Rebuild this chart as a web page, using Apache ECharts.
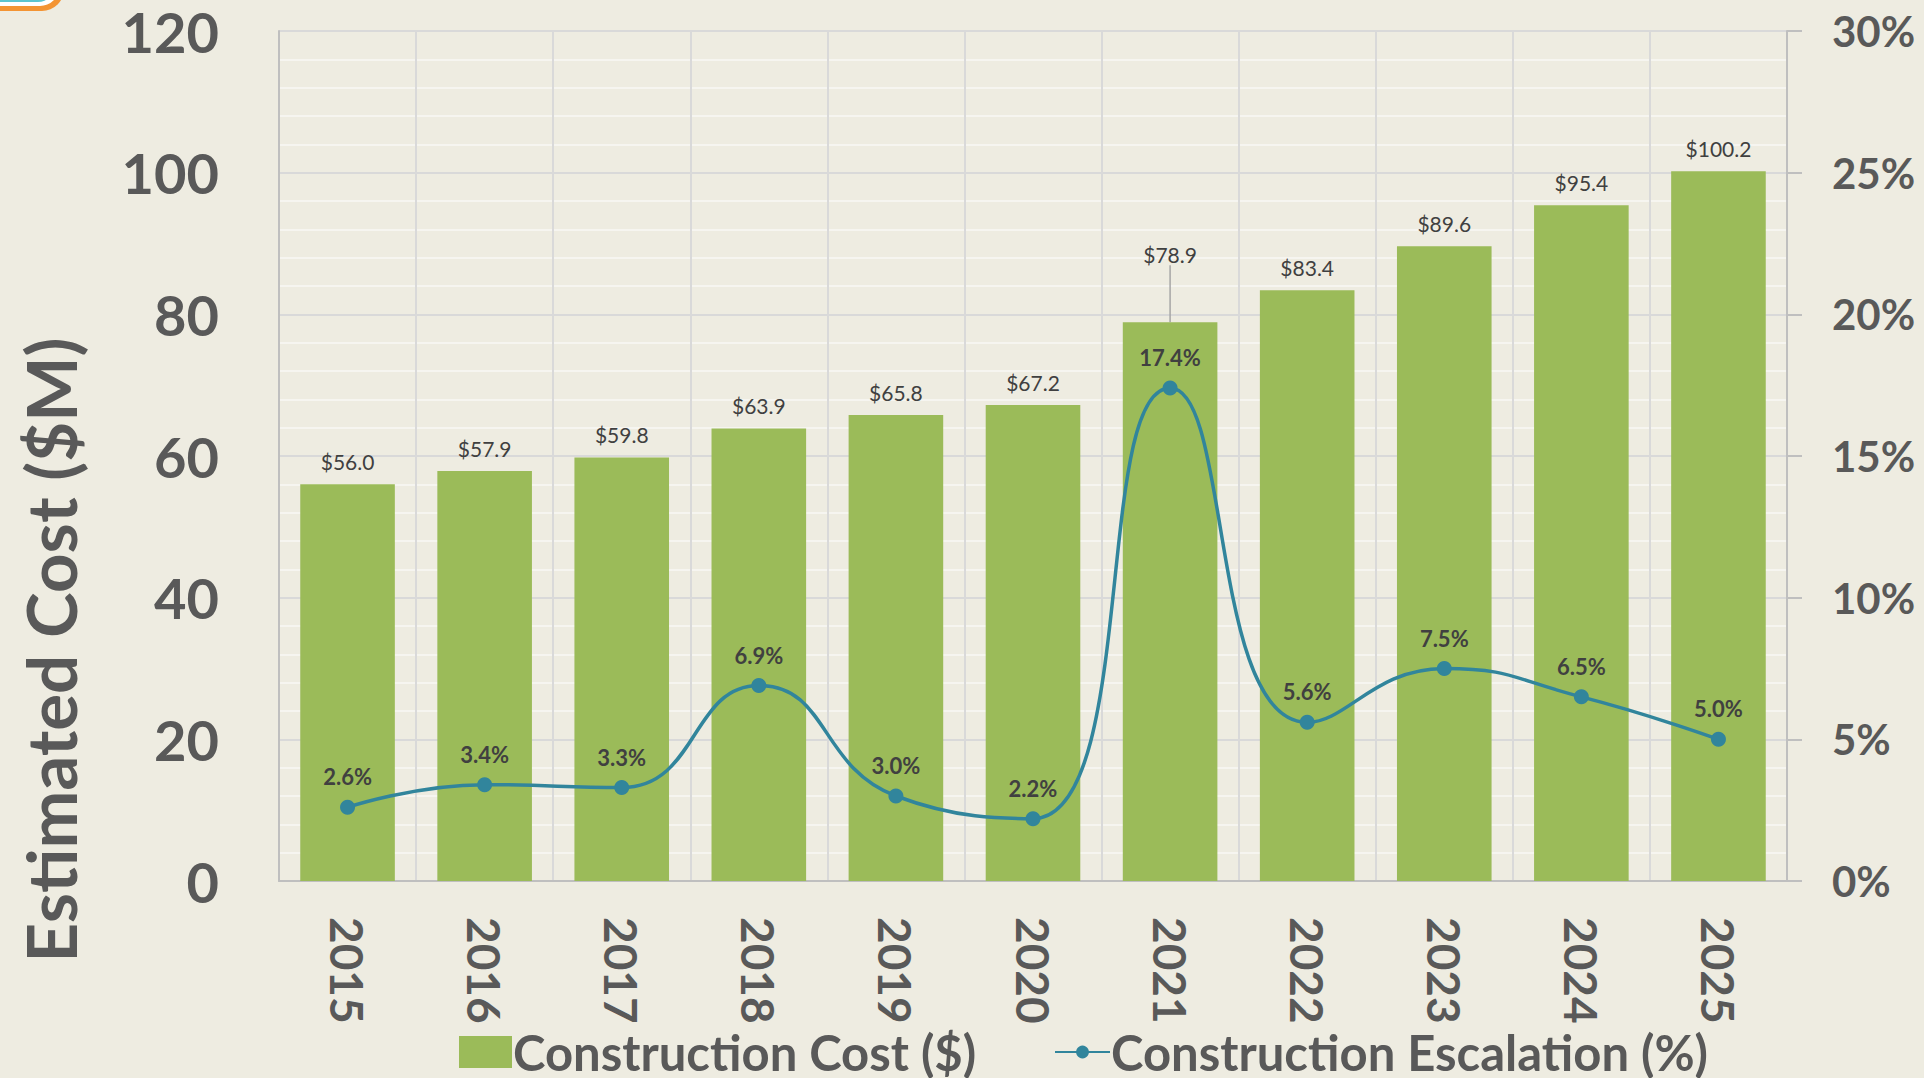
<!DOCTYPE html>
<html>
<head>
<meta charset="utf-8">
<title>Construction Cost</title>
<script src="https://cdn.jsdelivr.net/npm/echarts@6.0.0/dist/echarts.min.js"></script>
<style>
  html, body {
    margin: 0;
    padding: 0;
    background: #EEECE1;
  }
  #chart {
    width: 1924px;
    height: 1078px;
  }
</style>
</head>
<body>
<div id="chart"></div>
<script>
  // data
  const years = ['2015', '2016', '2017', '2018', '2019', '2020', '2021', '2022', '2023', '2024', '2025'];
  const costValues = [56.0, 57.9, 59.8, 63.9, 65.8, 67.2, 78.9, 83.4, 89.6, 95.4, 100.2];
  const escalationValues = [2.6, 3.4, 3.3, 6.9, 3.0, 2.2, 17.4, 5.6, 7.5, 6.5, 5.0];
  const costTicks = [0, 20, 40, 60, 80, 100, 120];
  const pctTicks = [0, 5, 10, 15, 20, 25, 30];

  const FONT = 'Lato, "Open Sans", sans-serif';
  const GREY = '#595959';

  // the 2021 label sits higher with a leader line
  const costData = costValues.map(function (v, i) {
    if (i === 6) {
      return { value: v, labelLine: { show: true } };
    }
    return v;
  });

  const chart = echarts.init(document.getElementById('chart'), null, { renderer: 'svg' });

  chart.setOption({
    backgroundColor: '#EEECE1',
    textStyle: { fontFamily: FONT },
    grid: {
      left: 279,
      right: 137,
      top: 31,
      bottom: 197
    },
    legend: [{
      data: ['Construction Cost ($)'],
      left: 454,
      top: 1021,
      itemWidth: 53,
      itemHeight: 32,
      icon: 'rect',
      textStyle: { color: GREY, fontSize: 49, fontWeight: 'bold', fontFamily: FONT, lineHeight: 52, padding: [0, 0, 0, -4] }
    }, {
      data: ['Construction Escalation (%)'],
      left: 1049,
      top: 1021,
      itemWidth: 55,
      itemHeight: 16,
      textStyle: { color: GREY, fontSize: 49, fontWeight: 'bold', fontFamily: FONT, lineHeight: 52, padding: [0, 0, 0, -4] }
    }],
    graphic: [{
      // corner of the logo, cut off by the page edge
      type: 'rect',
      shape: { x: -200, y: -100, width: 264, height: 111, r: 22 },
      style: { fill: '#F39433' }
    }, {
      type: 'rect',
      shape: { x: -200, y: -100, width: 259, height: 106, r: 19 },
      style: { fill: '#FFFFFF' }
    }, {
      type: 'rect',
      shape: { x: -200, y: -100, width: 255, height: 102, r: 17 },
      style: { fill: '#5CC5CF' }
    }, {
      type: 'text',
      x: 50,
      y: 650,
      rotation: Math.PI / 2,
      style: {
        text: 'Estimated Cost ($M)',
        fill: GREY,
        font: 'bold 69px ' + FONT,
        textAlign: 'center',
        textVerticalAlign: 'middle'
      }
    }],
    xAxis: {
      type: 'category',
      data: years,
      axisLine: { lineStyle: { color: '#BFBFBF', width: 2 } },
      axisTick: { show: false },
      splitLine: { show: true, lineStyle: { color: '#D9D9D9', width: 2 } },
      axisLabel: {
        rotate: -90,
        margin: 36,
        color: GREY,
        fontSize: 46,
        fontWeight: 'bold',
        fontFamily: FONT
      }
    },
    yAxis: [{
      type: 'value',
      min: costTicks[0],
      max: costTicks[costTicks.length - 1],
      interval: costTicks[1] - costTicks[0],
      axisLine: { show: true, lineStyle: { color: '#BFBFBF', width: 2 } },
      axisTick: { show: false },
      axisLabel: {
        margin: 60,
        color: GREY,
        fontSize: 56,
        fontWeight: 'bold',
        fontFamily: FONT
      },
      splitLine: { lineStyle: { color: '#D9D9D9', width: 2 } },
      minorTick: { show: false, splitNumber: 5 },
      minorSplitLine: { show: true, lineStyle: { color: '#F6F5F0', width: 2 } }
    }, {
      type: 'value',
      min: pctTicks[0],
      max: pctTicks[pctTicks.length - 1],
      interval: pctTicks[1] - pctTicks[0],
      axisLine: { show: true, lineStyle: { color: '#BFBFBF', width: 2 } },
      axisTick: { show: true, length: 15, lineStyle: { color: '#BFBFBF', width: 2 } },
      splitLine: { show: false },
      axisLabel: {
        margin: 45,
        formatter: '{value}%',
        color: GREY,
        fontSize: 42,
        fontWeight: 'bold',
        fontFamily: FONT
      }
    }],
    series: [{
      name: 'Construction Cost ($)',
      type: 'bar',
      data: costData,
      barCategoryGap: '31%',
      itemStyle: { color: '#9BBB59' },
      label: {
        show: true,
        position: 'top',
        distance: 12,
        color: '#404040',
        fontSize: 21,
        fontFamily: FONT,
        formatter: function (p) {
          return '$' + p.value.toFixed(1);
        }
      },
      labelLayout: function (p) {
        if (p.dataIndex === 6) {
          return { dy: -45 };
        }
        return {};
      },
      labelLine: {
        show: false,
        lineStyle: { color: '#A6A6A6', width: 1.5 }
      }
    }, {
      name: 'Construction Escalation (%)',
      type: 'line',
      yAxisIndex: 1,
      data: escalationValues,
      smooth: 0.5,
      symbol: 'circle',
      symbolSize: 15,
      z: 5,
      lineStyle: { color: '#31859C', width: 3.5 },
      itemStyle: { color: '#31859C' },
      label: {
        show: true,
        position: 'top',
        distance: 12,
        color: '#404040',
        fontSize: 22,
        fontWeight: 'bold',
        fontFamily: FONT,
        formatter: function (p) {
          return p.value.toFixed(1) + '%';
        }
      }
    }]
  });
</script>
</body>
</html>
